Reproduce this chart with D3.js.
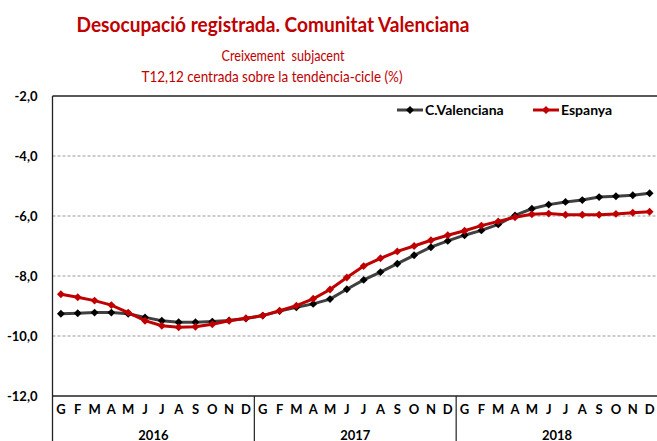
<!DOCTYPE html>
<html>
<head>
<meta charset="utf-8">
<script src="https://cdn.jsdelivr.net/npm/d3@7"></script>
<style>
  body { margin: 0; background: #fff; }
  svg { display: block; font-family: Lato, "Open Sans", sans-serif; }
</style>
</head>
<body>
<div id="chart"></div>
<script>
const years = ['2016', '2017', '2018'];
const months = ['G', 'F', 'M', 'A', 'M', 'J', 'J', 'A', 'S', 'O', 'N', 'D'];
const yTicks = [-2, -4, -6, -8, -10, -12];

const valenciana = [
  -9.26, -9.24, -9.22, -9.22, -9.26, -9.38, -9.49, -9.54, -9.54, -9.52, -9.48, -9.42,
  -9.32, -9.17, -9.04, -8.93, -8.77, -8.44, -8.13, -7.87, -7.59, -7.31, -7.04, -6.83,
  -6.64, -6.48, -6.28, -5.98, -5.76, -5.62, -5.53, -5.47, -5.37, -5.34, -5.31, -5.24
];
const espanya = [
  -8.61, -8.71, -8.82, -8.97, -9.22, -9.49, -9.66, -9.71, -9.69, -9.61, -9.49, -9.41,
  -9.32, -9.16, -8.99, -8.76, -8.45, -8.05, -7.67, -7.41, -7.18, -7.00, -6.81, -6.64,
  -6.49, -6.32, -6.18, -6.04, -5.94, -5.92, -5.96, -5.96, -5.96, -5.93, -5.89, -5.86
];

const width = 657, height = 441;
const red = '#C00000';
const plotLeft = 52.5, plotRight = 658, plotTop = 96, plotBottom = 396;

const svg = d3.select('#chart').append('svg')
  .attr('width', width)
  .attr('height', height);

// titles (squeezed a bit to get the narrow look of the original)
svg.append('text')
  .attr('x', 273).attr('y', 32)
  .attr('text-anchor', 'middle')
  .attr('fill', red)
  .attr('textLength', 393)
  .attr('lengthAdjust', 'spacingAndGlyphs')
  .style('font-weight', 'bold')
  .style('font-size', '21px')
  .text('Desocupació registrada. Comunitat Valenciana');
svg.append('text')
  .attr('x', 283).attr('y', 61)
  .attr('text-anchor', 'middle')
  .attr('fill', red)
  .attr('textLength', 123)
  .attr('lengthAdjust', 'spacingAndGlyphs')
  .style('font-size', '15px')
  .text('Creixement\u00a0 subjacent');
svg.append('text')
  .attr('x', 272).attr('y', 82)
  .attr('text-anchor', 'middle')
  .attr('fill', red)
  .attr('textLength', 261)
  .attr('lengthAdjust', 'spacingAndGlyphs')
  .style('font-size', '15px')
  .text('T12,12 centrada sobre la tendència-cicle (%)');

const keys = [];
years.forEach(yr => months.forEach((m, i) => keys.push(yr + '-' + i)));

const x = d3.scaleBand()
  .domain(keys)
  .range([plotLeft, plotRight]);

const y = d3.scaleLinear()
  .domain([-12, -2])
  .range([plotBottom, plotTop]);

// grid
svg.append('g')
  .selectAll('line')
  .data(yTicks.filter(d => d !== -2 && d !== -12))
  .join('line')
    .attr('x1', plotLeft).attr('x2', plotRight)
    .attr('y1', d => y(d)).attr('y2', d => y(d))
    .attr('stroke', '#999')
    .attr('stroke-width', 1)
    .attr('stroke-dasharray', '3,2');

// frame: top, bottom, left
svg.append('line')
  .attr('x1', plotLeft).attr('x2', plotRight)
  .attr('y1', y(-2)).attr('y2', y(-2))
  .attr('stroke', '#222').attr('stroke-width', 1.3);
svg.append('line')
  .attr('x1', plotLeft).attr('x2', plotRight)
  .attr('y1', y(-12)).attr('y2', y(-12))
  .attr('stroke', '#222').attr('stroke-width', 1.3);
svg.append('line')
  .attr('x1', plotLeft).attr('x2', plotLeft)
  .attr('y1', y(-2)).attr('y2', height)
  .attr('stroke', '#222').attr('stroke-width', 1.3);

// year separators
svg.append('g')
  .selectAll('line')
  .data(years.slice(1))
  .join('line')
    .attr('x1', d => x(d + '-0')).attr('x2', d => x(d + '-0'))
    .attr('y1', y(-12)).attr('y2', height)
    .attr('stroke', '#222').attr('stroke-width', 1.2);

// y axis labels
const yAxis = svg.append('g')
  .attr('transform', `translate(${plotLeft},0)`)
  .call(d3.axisLeft(y).tickValues(yTicks).tickSize(0).tickPadding(15)
    .tickFormat(d => d3.format('.1f')(d).replace('.', ',').replace('−', '-')))
  .call(g => g.select('.domain').remove());
yAxis.selectAll('text')
  .style('font-family', 'Lato, "Open Sans", sans-serif')
  .style('font-size', '13px')
  .style('font-weight', 'bold')
  .attr('fill', '#000');

// month labels
const xAxis = svg.append('g')
  .attr('transform', `translate(0,${plotBottom})`)
  .call(d3.axisBottom(x).tickSize(0).tickPadding(9)
    .tickFormat(k => months[+k.split('-')[1]]))
  .call(g => g.select('.domain').remove());
xAxis.selectAll('text')
  .style('font-family', 'Lato, "Open Sans", sans-serif')
  .style('font-size', '13px')
  .style('font-weight', 'bold')
  .attr('fill', '#000');

// year labels (cut by the bottom edge, as in the original)
svg.append('g')
  .selectAll('text')
  .data(years)
  .join('text')
    .attr('x', d => (x(d + '-0') + x(d + '-11') + x.bandwidth()) / 2)
    .attr('y', 440)
    .attr('text-anchor', 'middle')
    .style('font-size', '13px')
    .style('font-weight', 'bold')
    .text(d => d);

const diamond = d3.symbol().type(d3.symbolDiamond2).size(40);

const series = [
  { name: 'C.Valenciana', values: valenciana, line: '#404040', mark: '#000' },
  { name: 'Espanya', values: espanya, line: red, mark: red }
];

const line = d3.line()
  .x((d, i) => x(keys[i]) + x.bandwidth() / 2)
  .y(d => y(d));

series.forEach(s => {
  svg.append('path')
    .datum(s.values)
    .attr('fill', 'none')
    .attr('stroke', s.line)
    .attr('stroke-width', 3)
    .attr('d', line);
  svg.append('g')
    .selectAll('path')
    .data(s.values)
    .join('path')
      .attr('d', diamond)
      .attr('transform', (d, i) => `translate(${x(keys[i]) + x.bandwidth() / 2},${y(d)})`)
      .attr('fill', s.mark);
});

// legend
const legendX = [397, 533];
series.forEach((s, i) => {
  const g = svg.append('g').attr('transform', `translate(${legendX[i]},110)`);
  g.append('line')
    .attr('x1', 0).attr('x2', 26)
    .attr('stroke', s.line).attr('stroke-width', 3);
  g.append('path')
    .attr('d', diamond)
    .attr('transform', 'translate(13,0)')
    .attr('fill', s.mark);
  g.append('text')
    .attr('x', 28).attr('y', 5)
    .style('font-size', '14px')
    .style('font-weight', 'bold')
    .text(s.name);
});
</script>
</body>
</html>
